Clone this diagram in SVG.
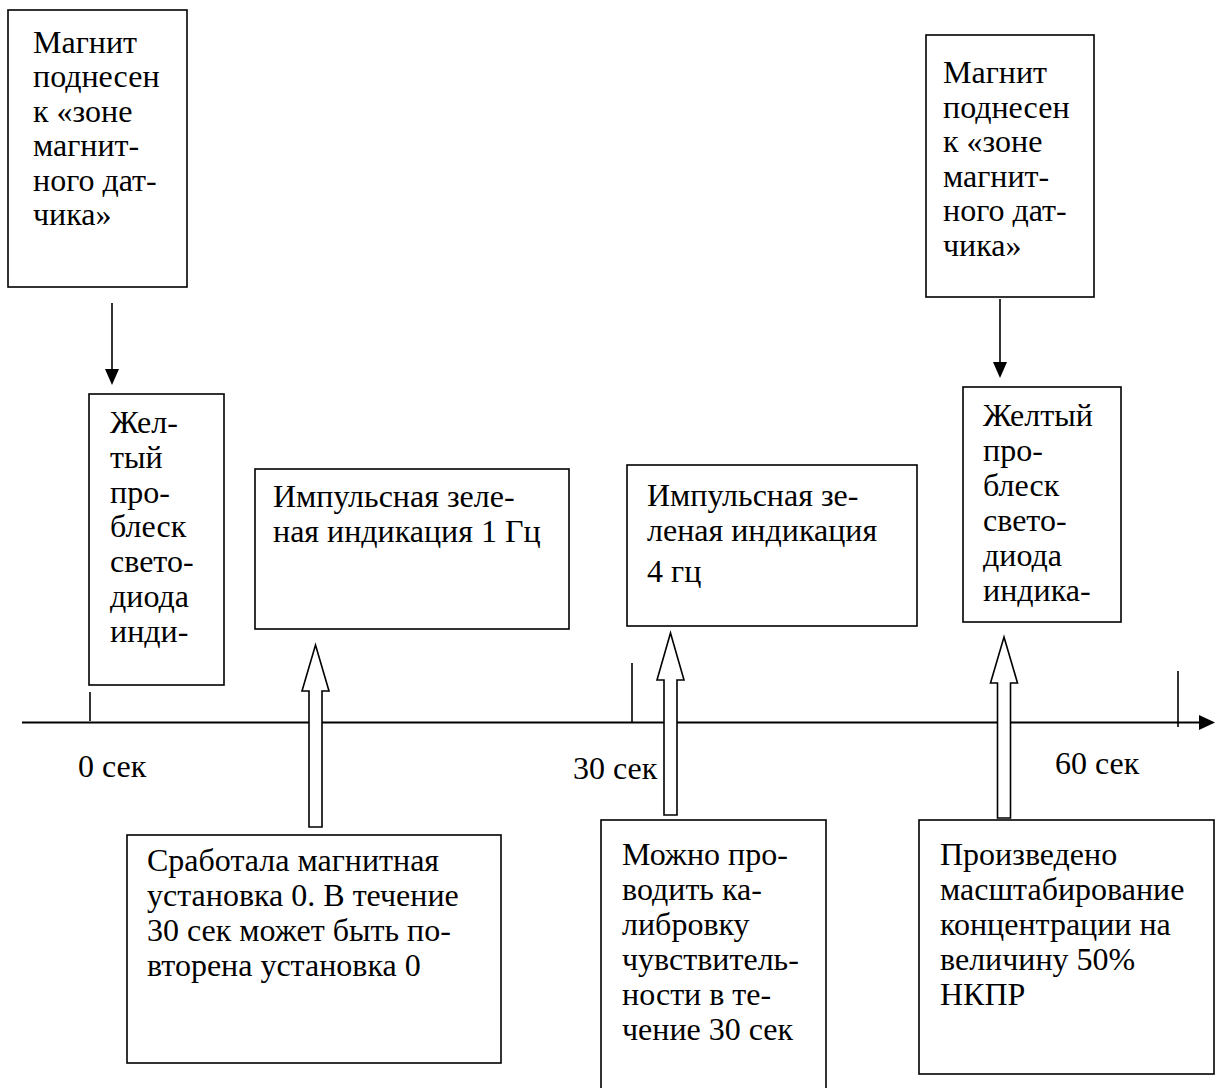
<svg xmlns="http://www.w3.org/2000/svg" width="1218" height="1088" viewBox="0 0 1218 1088">
<style>
.box{fill:#fff;stroke:#000;stroke-width:1.6}
.t{font-family:"Liberation Serif","Times New Roman",serif;font-size:32px;fill:#000}
.ln{stroke:#000;stroke-width:1.6;fill:none}
.ax{stroke:#000;stroke-width:2;fill:none}
.blk{fill:#fff;stroke:#000;stroke-width:1.6;stroke-linejoin:miter}
</style>
<rect width="1218" height="1088" fill="#fff"/>

<g id="connectors">
<line class="ln" x1="112" y1="303" x2="112" y2="369"/>
<path d="M105,369 L119,369 L112,385 Z" fill="#000"/>
<line class="ln" x1="1000" y1="299" x2="1000" y2="362"/>
<path d="M993,362 L1007,362 L1000,378 Z" fill="#000"/>
<line class="ax" x1="22" y1="722.5" x2="1200" y2="722.5"/>
<path d="M1199,715 L1215,722.5 L1199,730 Z" fill="#000"/>
<line class="ln" x1="90" y1="692" x2="90" y2="721"/>
<line class="ln" x1="632" y1="663" x2="632" y2="722"/>
<line class="ln" x1="1178" y1="671" x2="1178" y2="727"/>
<path class="blk" d="M315.5,645 L329,691 L322,691 L322,827 L309,827 L309,691 L302,691 Z"/>
<path class="blk" d="M670.5,633 L684,680 L677,680 L677,815 L664,815 L664,680 L657,680 Z"/>
<path class="blk" d="M1004,637 L1017.5,683 L1010.5,683 L1010.5,818 L997.5,818 L997.5,683 L990.5,683 Z"/>
</g>

<g id="n-magnet-left">
<rect class="box" x="8" y="10" width="179" height="277"/>
<text class="t" x="33" y="53"><tspan x="33">Магнит</tspan><tspan x="33" dy="34.4">поднесен</tspan><tspan x="33" dy="34.4">к «зоне</tspan><tspan x="33" dy="34.4">магнит-</tspan><tspan x="33" dy="34.4">ного дат-</tspan><tspan x="33" dy="34.4">чика»</tspan></text>
</g>

<g id="n-yellow-left">
<rect class="box" x="89" y="394" width="135" height="291"/>
<text class="t" x="110" y="433"><tspan x="110">Жел-</tspan><tspan x="110" dy="34.8">тый</tspan><tspan x="110" dy="34.8">про-</tspan><tspan x="110" dy="34.8">блеск</tspan><tspan x="110" dy="34.8">свето-</tspan><tspan x="110" dy="34.8">диода</tspan><tspan x="110" dy="34.8">инди-</tspan></text>
</g>

<g id="n-green-1hz">
<rect class="box" x="255" y="469" width="314" height="160"/>
<text class="t" x="273" y="507"><tspan x="273">Импульсная зеле-</tspan><tspan x="273" dy="35">ная индикация 1 Гц</tspan></text>
</g>

<g id="n-green-4hz">
<rect class="box" x="627" y="465" width="290" height="161"/>
<text class="t" x="647" y="506"><tspan x="647">Импульсная зе-</tspan><tspan x="647" dy="35">леная индикация</tspan><tspan x="647" dy="41">4 гц</tspan></text>
</g>

<g id="n-magnet-right">
<rect class="box" x="926" y="35" width="168" height="262"/>
<text class="t" x="943" y="83"><tspan x="943">Магнит</tspan><tspan x="943" dy="34.5">поднесен</tspan><tspan x="943" dy="34.5">к «зоне</tspan><tspan x="943" dy="34.5">магнит-</tspan><tspan x="943" dy="34.5">ного дат-</tspan><tspan x="943" dy="34.5">чика»</tspan></text>
</g>

<g id="n-yellow-right">
<rect class="box" x="963" y="387" width="158" height="235"/>
<text class="t" x="983" y="426"><tspan x="983">Желтый</tspan><tspan x="983" dy="35">про-</tspan><tspan x="983" dy="35">блеск</tspan><tspan x="983" dy="35">свето-</tspan><tspan x="983" dy="35">диода</tspan><tspan x="983" dy="35">индика-</tspan></text>
</g>

<g id="axis-labels">
<text class="t" x="78" y="777">0 сек</text>
<text class="t" x="573" y="779">30 сек</text>
<text class="t" x="1055" y="774">60 сек</text>
</g>

<g id="n-zero-set">
<rect class="box" x="127" y="835" width="374" height="228"/>
<text class="t" x="147" y="871"><tspan x="147">Сработала магнитная</tspan><tspan x="147" dy="35">установка 0. В течение</tspan><tspan x="147" dy="35">30 сек может быть по-</tspan><tspan x="147" dy="35">вторена установка 0</tspan></text>
</g>

<g id="n-calibration">
<rect class="box" x="601" y="820" width="225" height="280"/>
<text class="t" x="622" y="865"><tspan x="622">Можно про-</tspan><tspan x="622" dy="35">водить ка-</tspan><tspan x="622" dy="35">либровку</tspan><tspan x="622" dy="35">чувствитель-</tspan><tspan x="622" dy="35">ности в те-</tspan><tspan x="622" dy="35">чение 30 сек</tspan></text>
</g>

<g id="n-scaling">
<rect class="box" x="919" y="820" width="295" height="254"/>
<text class="t" x="940" y="865"><tspan x="940">Произведено</tspan><tspan x="940" dy="35">масштабирование</tspan><tspan x="940" dy="35">концентрации на</tspan><tspan x="940" dy="35">величину 50%</tspan><tspan x="940" dy="35">НКПР</tspan></text>
</g>
</svg>
